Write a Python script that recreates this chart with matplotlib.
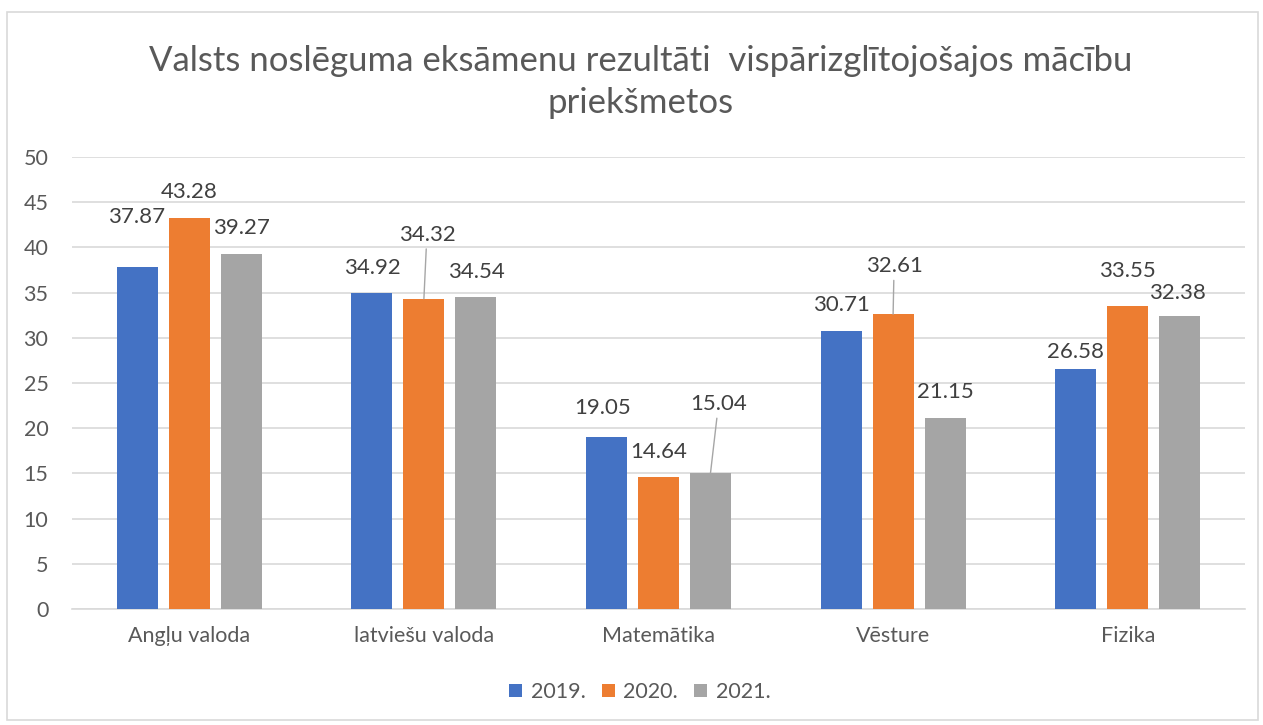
import matplotlib
matplotlib.use("Agg")
import matplotlib.pyplot as plt
import numpy as np
from matplotlib.patches import Rectangle

categories = ["Angļu valoda", "latviešu valoda", "Matemātika", "Vēsture", "Fizika"]
series_names = ["2019.", "2020.", "2021."]
values_2019 = [37.87, 34.92, 19.05, 30.71, 26.58]
values_2020 = [43.28, 34.32, 14.64, 32.61, 33.55]
values_2021 = [39.27, 34.54, 15.04, 21.15, 32.38]
title = "Valsts noslēguma eksāmenu rezultāti  vispārizglītojošajos mācību\npriekšmetos"
yticks = [0, 5, 10, 15, 20, 25, 30, 35, 40, 45, 50]

colors = ["#4472C4", "#ED7D31", "#A5A5A5"]
# label offsets (dx, dy in pixels) and leader flags, per series per category
offsets = [
    [(-1, 50), (0, 25), (-4, 29), (0, 26), (0, 17)],
    [(0, 26), (3, 64), (0, 25), (1, 48), (0, 35)],
    [(0, 26), (0, 25), (8, 69), (0, 26), (-2, 23)],
]
leaders = [
    [False] * 5,
    [False, True, False, True, False],
    [False, False, True, False, False],
]

plt.rcParams['font.family'] = ['Lato', 'DejaVu Sans']
fig = plt.figure(figsize=(12.63, 7.25), dpi=100)
ax = fig.add_axes([72/1263, 1-609/725, (1245-72)/1263, (609-157)/725])

fig.patches.append(Rectangle((7/1263, 1-720/725), (1258-7)/1263, (720-12)/725,
                             transform=fig.transFigure, fill=False,
                             edgecolor="#d9d9d9", linewidth=1.2))

x = np.arange(len(categories))
bw = 41/234.6
step = 52/234.6
all_vals = [values_2019, values_2020, values_2021]
px2pt = 72/100
for i, (vals, name) in enumerate(zip(all_vals, series_names)):
    pos = x + (i-1)*step
    ax.bar(pos, vals, width=bw, color=colors[i], label=name, zorder=3)
    for j, (p, v) in enumerate(zip(pos, vals)):
        dx, dy = offsets[i][j]
        kw = {}
        if leaders[i][j]:
            kw['arrowprops'] = dict(arrowstyle='-', color='#a6a6a6', lw=1.0,
                                    shrinkA=1, shrinkB=0)
        ax.annotate(f"{v:.2f}", xy=(p, v), xytext=(dx*px2pt, dy*px2pt),
                    textcoords='offset points', ha='center', va='center',
                    fontsize=16, color='#404040', zorder=5, **kw)

ax.set_xlim(-0.5, len(categories)-0.5)
ax.set_ylim(0, 50)
ax.set_yticks(yticks)
ax.set_xticks(x)
ax.set_xticklabels(categories)
ax.tick_params(axis='both', length=0, labelsize=15.5, labelcolor='#595959')
ax.tick_params(axis='x', pad=12)
ax.tick_params(axis='y', pad=17)
for lab in ax.get_yticklabels():
    lab.set_horizontalalignment('right')
ax.yaxis.grid(True, color='#d9d9d9', linewidth=1.2, zorder=0)
ax.set_axisbelow(True)
for s in ['top', 'right', 'left']:
    ax.spines[s].set_visible(False)
ax.spines['bottom'].set_color('#d9d9d9')
ax.spines['bottom'].set_linewidth(1.2)

fig.text(641/1263, 1-82/725, title, ha='center', va='center', fontsize=25,
         color='#595959', linespacing=1.36)

leg = fig.legend(loc='center', bbox_to_anchor=(640/1263, 1-692/725), ncol=3,
                 frameon=False, fontsize=15.5, handlelength=0.6, handleheight=0.6,
                 handletextpad=0.4, columnspacing=0.75)
for t in leg.get_texts():
    t.set_color('#595959')

fig.savefig("out.png", dpi=100)
